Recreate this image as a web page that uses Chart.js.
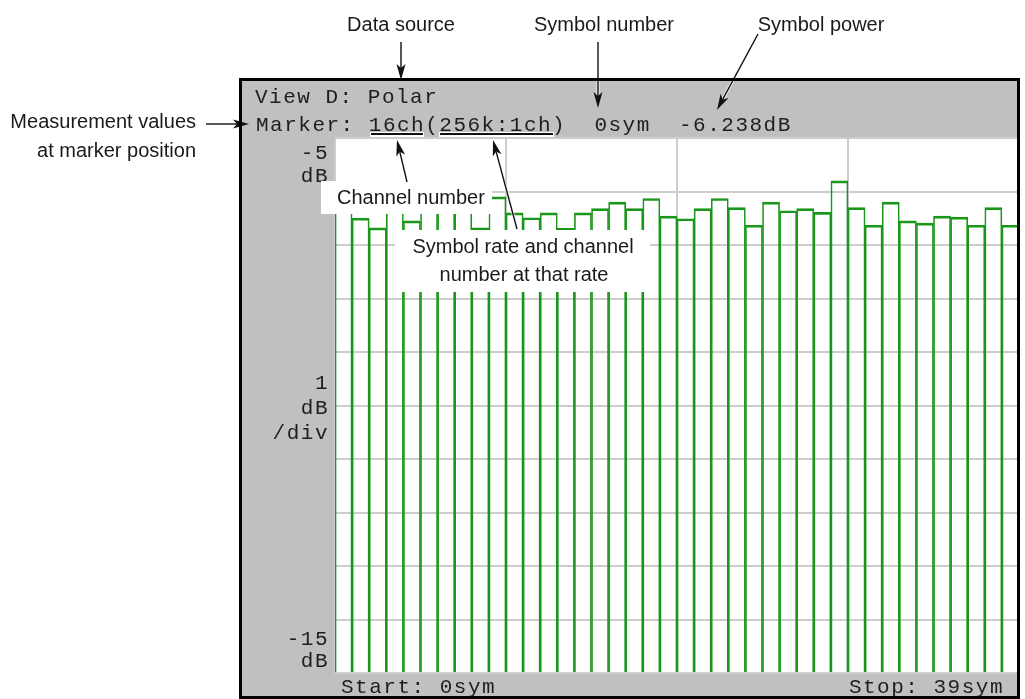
<!DOCTYPE html>
<html>
<head>
<meta charset="utf-8">
<script src="https://cdn.jsdelivr.net/npm/chart.js@4.4.1/dist/chart.umd.min.js"></script>
<style>
	html, body { margin: 0; padding: 0; background: #ffffff; }
	canvas { display: block; }
</style>
</head>
<body>
<canvas id="polar-view-canvas" width="1025" height="699"></canvas>
<script>
// symbol index along the time axis (0sym .. 39sym)
const symbols = [
	'0', '1', '2', '3', '4', '5', '6', '7', '8', '9',
	'10', '11', '12', '13', '14', '15', '16', '17', '18', '19',
	'20', '21', '22', '23', '24', '25', '26', '27', '28', '29',
	'30', '31', '32', '33', '34', '35', '36', '37', '38', '39'
];

// symbol power in dB for each symbol
const symbolPower = [
	-6.238, -6.50, -6.68, -6.25, -6.55, -6.29, -6.21, -6.33, -6.68, -6.10,
	-6.40, -6.49, -6.40, -6.69, -6.40, -6.32, -6.20, -6.32, -6.13, -6.46,
	-6.51, -6.32, -6.13, -6.30, -6.63, -6.20, -6.36, -6.32, -6.39, -5.80,
	-6.30, -6.63, -6.20, -6.55, -6.59, -6.46, -6.48, -6.63, -6.30, -6.63
];

// symbol positions of the vertical divisions
const symbolDivisions = [0, 10, 20, 30, 40];

// vertical scale: reference level, 1 dB/div, bottom level
const refLevel = -5;
const bottomLevel = -15;
const dbPerDiv = 1;
const topLabel = ['-5', 'dB'];
const scaleLabel = ['1', 'dB', '/div'];
const bottomLabel = ['-15', 'dB'];

// readouts on the screen
const viewLine = 'View D: Polar';
const markerLine = 'Marker: 16ch(256k:1ch)  0sym  -6.238dB';
const startLabel = 'Start: 0sym';
const stopLabel = 'Stop: 39sym';

const traceGreen = '#1a961a';
const gridGrey = '#cdcdcd';
const panelGrey = '#c0c0c0';
const monoFont = '21px "Liberation Mono", "DejaVu Sans Mono", monospace';
const calloutFont = '20px "Liberation Sans", Arial, sans-serif';
const monoPitch = 14.1;

function drawMono(ctx, text, x, y) {
	for (let i = 0; i < text.length; i++) {
		ctx.fillText(text[i], x + i * monoPitch, y);
	}
}

function drawMonoRight(ctx, text, right, y) {
	drawMono(ctx, text, right - text.length * monoPitch, y);
}

function drawArrow(ctx, x1, y1, x2, y2, halo) {
	var ang = Math.atan2(y2 - y1, x2 - x1);
	var len = 16, half = 4.5;
	var bx = x2 - len * Math.cos(ang), by = y2 - len * Math.sin(ang);
	var px = -Math.sin(ang) * half, py = Math.cos(ang) * half;
	var nx = x2 - (len - 4) * Math.cos(ang), ny = y2 - (len - 4) * Math.sin(ang);

	if (halo) {
		// thin white edge so the arrow reads on the grey panel
		ctx.strokeStyle = 'rgba(255,255,255,0.85)';
		ctx.lineWidth = 3;
		ctx.beginPath();
		ctx.moveTo(x1, y1);
		ctx.lineTo(nx, ny);
		ctx.stroke();
	}
	ctx.strokeStyle = '#111111';
	ctx.fillStyle = '#111111';
	ctx.lineWidth = 1.4;
	ctx.beginPath();
	ctx.moveTo(x1, y1);
	ctx.lineTo(nx, ny);
	ctx.stroke();
	ctx.beginPath();
	ctx.moveTo(x2, y2);
	ctx.lineTo(bx + px, by + py);
	ctx.lineTo(nx, ny);
	ctx.lineTo(bx - px, by - py);
	ctx.closePath();
	ctx.fill();
}

function drawUnderline(ctx, x1, x2, y) {
	ctx.fillStyle = '#ffffff';
	ctx.fillRect(x1 - 1, y - 2, x2 - x1 + 2, 5);
	ctx.fillStyle = '#111111';
	ctx.fillRect(x1, y - 1, x2 - x1, 2);
}

function drawLabelBox(ctx, x, y, w, h) {
	ctx.fillStyle = '#ffffff';
	ctx.fillRect(x, y, w, h);
}

const panelPlugin = {
	id: 'polarPanel',
	beforeDraw(chart) {
		const ctx = chart.ctx;
		const area = chart.chartArea;
		ctx.save();
		ctx.fillStyle = '#ffffff';
		ctx.fillRect(0, 0, chart.width, chart.height);
		ctx.fillStyle = panelGrey;
		ctx.fillRect(240, 79, 779, 619);
		ctx.fillStyle = '#ffffff';
		ctx.fillRect(area.left, area.top, area.right - area.left, area.bottom - area.top);
		ctx.restore();
	},
	afterDraw(chart) {
		const ctx = chart.ctx;
		const y = chart.scales.y;
		ctx.save();

		// screen readouts
		ctx.font = monoFont;
		ctx.fillStyle = '#1e1e1e';
		ctx.textBaseline = 'alphabetic';
		drawMono(ctx, viewLine, 255, 103);
		drawMono(ctx, markerLine, 256, 131);

		// level labels on the left
		var yTop = y.getPixelForValue(refLevel);
		var yMid = y.getPixelForValue((refLevel + bottomLevel) / 2);
		var yBot = y.getPixelForValue(bottomLevel);
		drawMonoRight(ctx, topLabel[0], 329, yTop + 21);
		drawMonoRight(ctx, topLabel[1], 329, yTop + 44);
		drawMonoRight(ctx, scaleLabel[0], 329, yMid - 17);
		drawMonoRight(ctx, scaleLabel[1], 329, yMid + 8);
		drawMonoRight(ctx, scaleLabel[2], 329, yMid + 33);
		drawMonoRight(ctx, bottomLabel[0], 329, yBot - 28);
		drawMonoRight(ctx, bottomLabel[1], 329, yBot - 6);

		drawMono(ctx, startLabel, 341, 693);
		drawMonoRight(ctx, stopLabel, 1004, 693);

		drawUnderline(ctx, 371, 423, 134);
		drawUnderline(ctx, 440, 553, 134);

		// callouts
		ctx.font = calloutFont;
		ctx.fillStyle = '#1a1a1a';
		ctx.textAlign = 'center';
		ctx.fillText('Data source', 401, 31);
		ctx.fillText('Symbol number', 604, 31);
		ctx.fillText('Symbol power', 821, 31);
		ctx.textAlign = 'right';
		ctx.fillText('Measurement values', 196, 128);
		ctx.fillText('at marker position', 196, 157);

		drawLabelBox(ctx, 321, 181, 171, 33);
		drawLabelBox(ctx, 395, 230, 255, 62);
		ctx.fillStyle = '#1a1a1a';
		ctx.textAlign = 'left';
		ctx.fillText('Channel number', 337, 204);
		ctx.textAlign = 'center';
		ctx.fillText('Symbol rate and channel', 523, 253);
		ctx.fillText('number at that rate', 524, 281);

		drawArrow(ctx, 401, 42, 401, 80, false);
		drawArrow(ctx, 598, 42, 598, 108, true);
		drawArrow(ctx, 758, 34, 717, 110, true);
		drawArrow(ctx, 206, 124, 249, 124, true);
		drawArrow(ctx, 407, 182, 397, 140, true);
		drawArrow(ctx, 517, 229, 493, 140, true);

		// instrument frame
		ctx.strokeStyle = '#000000';
		ctx.lineWidth = 3;
		ctx.strokeRect(240.5, 79.5, 778, 618);
		ctx.restore();
	}
};

const polarChartOptions = {
	responsive: false,
	maintainAspectRatio: false,
	animation: false,
	devicePixelRatio: 1,
	layout: {
		padding: { left: 335, right: 6, top: 138, bottom: 26 }
	},
	plugins: {
		legend: { display: false },
		tooltip: { enabled: false }
	},
	scales: {
		x: {
			display: false
		},
		// divisions along the symbol axis, 10 symbols per division
		xDiv: {
			type: 'linear',
			position: 'bottom',
			min: 0,
			max: symbols.length,
			offset: false,
			afterBuildTicks: function (scale) {
				scale.ticks = symbolDivisions.map(function (v) { return { value: v }; });
			},
			ticks: { display: false },
			grid: { color: gridGrey, lineWidth: 2, drawTicks: false, offset: false },
			border: { display: false }
		},
		y: {
			min: bottomLevel,
			max: refLevel,
			ticks: { display: false, stepSize: dbPerDiv },
			grid: { color: gridGrey, lineWidth: 2, drawTicks: false },
			border: { display: false }
		}
	}
};

const ctx = document.getElementById('polar-view-canvas').getContext('2d');
const chart = new Chart(ctx, {
	type: 'bar',
	data: {
		labels: symbols,
		datasets: [{
			label: 'symbol power',
			data: symbolPower,
			base: bottomLevel,
			backgroundColor: 'rgba(0,0,0,0)',
			borderColor: traceGreen,
			borderWidth: { left: 1, right: 1, top: 2, bottom: 0 },
			borderSkipped: false,
			barPercentage: 1,
			categoryPercentage: 1
		}]
	},
	options: polarChartOptions,
	plugins: [panelPlugin]
});
</script>
</body>
</html>
